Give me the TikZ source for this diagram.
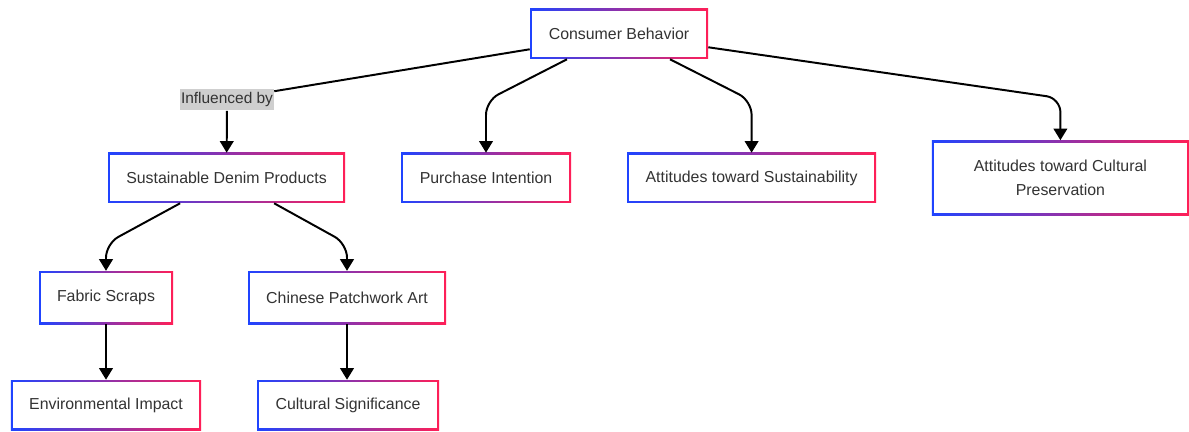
\documentclass[tikz,border=0pt]{standalone}
\usepackage{fontspec}
\usepackage{xcolor}
\usepackage{tikz}
\usetikzlibrary{arrows.meta,positioning,calc}
\newfontfamily\lsans{Liberation Sans}
\definecolor{gblue}{HTML}{1F44FF}
\definecolor{gred}{HTML}{FF1F57}
\definecolor{txtgray}{HTML}{333333}
\definecolor{labelgray}{HTML}{CFCFCF}
\tikzset{
  gbox/.style={shade,left color=gblue,right color=gred,text=txtgray,
    font=\lsans\fontsize{11.3}{17}\selectfont,align=center,
    minimum height=1.25cm,inner sep=0pt,
    path picture={\fill[white] ([shift={(1.7pt,1.7pt)}]path picture bounding box.south west)
      rectangle ([shift={(-1.7pt,-1.7pt)}]path picture bounding box.north east);}},
  edgelabel/.style={fill=labelgray,text=txtgray,font=\lsans\fontsize{11}{13}\selectfont,
    minimum width=2.35cm,minimum height=0.525cm,inner sep=0pt},
  flowarrow/.style={-{Triangle[length=2.9mm,width=3.4mm]},line width=1.4pt,draw=black,rounded corners=0.35cm},
  flowline/.style={line width=1.4pt,draw=black}
}
\begin{document}
\begin{tikzpicture}
\useasboundingbox (0,0) rectangle (29.725,-10.8);

% top
\node[gbox, minimum width=4.45cm] (consumer) at (15.475,-0.85) {Consumer Behavior};
\node[edgelabel] (influenced) at (5.675,-2.5) {Influenced by};

% second row
\node[gbox, minimum width=5.925cm] (denim) at (5.663,-4.45) {Sustainable Denim Products};
\node[gbox, minimum width=4.25cm] (purchase) at (12.15,-4.45) {Purchase Intention};
\node[gbox, minimum width=6.225cm] (sustain) at (18.79,-4.45) {Attitudes toward Sustainability};
\node[gbox, minimum width=6.425cm, minimum height=1.875cm] (culture) at (26.51,-4.45) {Attitudes toward Cultural\\Preservation};

% third and fourth row
\node[gbox, minimum width=3.35cm, minimum height=1.325cm] (scraps) at (2.65,-7.44) {Fabric Scraps};
\node[gbox, minimum width=4.95cm, minimum height=1.325cm] (patchwork) at (8.675,-7.44) {Chinese Patchwork Art};
\node[gbox, minimum width=4.75cm] (impact) at (2.65,-10.125) {Environmental Impact};
\node[gbox, minimum width=4.55cm] (significance) at (8.7,-10.125) {Cultural Significance};

\draw[flowline] ([yshift=0.25cm]consumer.south west) -- ([yshift=-0.05cm]influenced.north east);
\draw[flowarrow] (influenced) -- (denim);
\draw[flowarrow] ([xshift=-1.3cm]consumer.south) -- ([yshift=1.3cm]purchase.north) -- (purchase.north);
\draw[flowarrow] ([xshift=1.275cm]consumer.south) -- ([yshift=1.3cm]sustain.north) -- (sustain.north);
\draw[flowarrow] ([yshift=0.3cm]consumer.south east) -- ([yshift=1.05cm]culture.north) -- (culture.north);

\draw[flowarrow] ([xshift=-1.16cm]denim.south) -- ([yshift=0.68cm]scraps.north) -- (scraps.north);
\draw[flowarrow] ([xshift=1.19cm]denim.south) -- ([yshift=0.68cm]patchwork.north) -- (patchwork.north);
\draw[flowarrow] (scraps) -- (impact);
\draw[flowarrow] (patchwork.south) -- (patchwork.south |- significance.north);
\end{tikzpicture}
\end{document}
